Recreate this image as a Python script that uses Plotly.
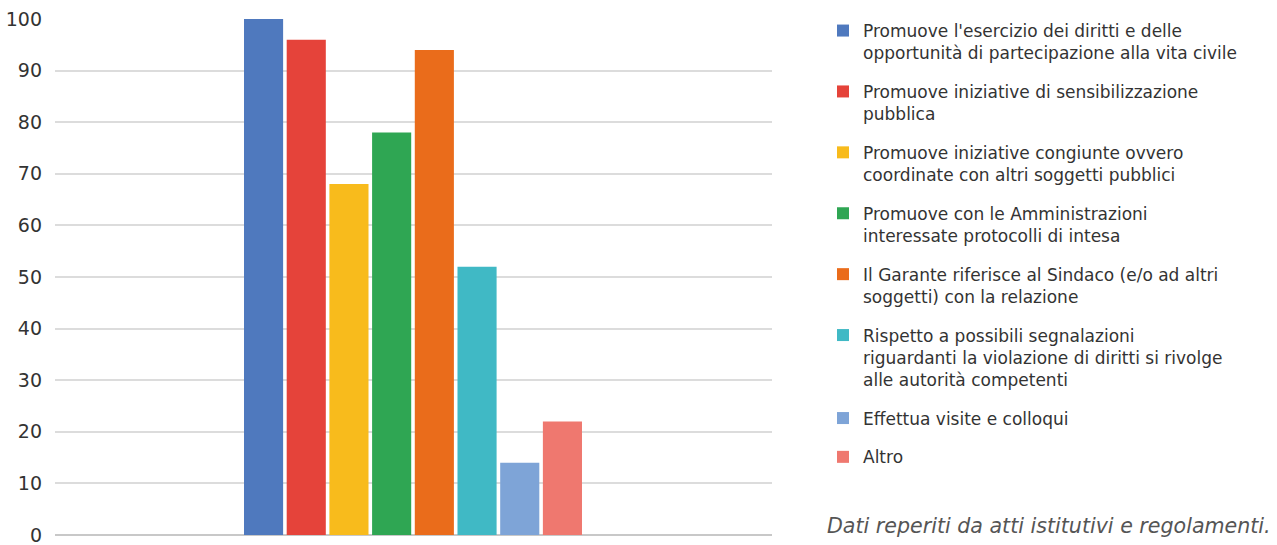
import plotly.graph_objects as go

category = [""]
labels = [
    "Promuove l'esercizio dei diritti e delle<br>opportunità di partecipazione alla vita civile",
    "Promuove iniziative di sensibilizzazione<br>pubblica",
    "Promuove iniziative congiunte ovvero<br>coordinate con altri soggetti pubblici",
    "Promuove con le Amministrazioni<br>interessate protocolli di intesa",
    "Il Garante riferisce al Sindaco (e/o ad altri<br>soggetti) con la relazione",
    "Rispetto a possibili segnalazioni<br>riguardanti la violazione di diritti si rivolge<br>alle autorità competenti",
    "Effettua visite e colloqui",
    "Altro",
]
values = [100, 96, 68, 78, 94, 52, 14, 22]
colors = ["#4f79be", "#e5433a", "#f8bb1c", "#2fa653", "#ea6c1b", "#40b9c5", "#7ea4d7", "#ef786f"]
y_ticks = list(range(0, 101, 10))
caption = "Dati reperiti da atti istitutivi e regolamenti."

fig = go.Figure()
for i, (lab, val, col) in enumerate(zip(labels, values, colors)):
    fig.add_trace(go.Bar(
        x=category, y=[val], name=lab, legendgroup=f"g{i}",
        marker=dict(color=col, line=dict(color=col, width=0)),
    ))

W, H = 1277, 545
ml, mr, mt, mb = 55, 505, 19, 10
fig.update_layout(
    width=W, height=H,
    margin=dict(l=ml, r=mr, t=mt, b=mb, autoexpand=False),
    paper_bgcolor="white", plot_bgcolor="white",
    barmode="group", bargap=0.5236, bargroupgap=0.084,
    showlegend=True,
    legend=dict(
        xref="container", yref="container",
        x=823 / W, y=1 - 13 / H, xanchor="left", yanchor="top",
        font=dict(family="DejaVu Sans", size=17, color="#333333"),
        valign="top", tracegroupgap=13.7, itemwidth=30, maxheight=540,
        bgcolor="rgba(0,0,0,0)",
    ),
    xaxis=dict(showticklabels=False, showgrid=False, zeroline=False, showline=False,
               range=[-0.4993, 0.5007], fixedrange=True, automargin=False),
    yaxis=dict(range=[0, 100], tickvals=y_ticks, showgrid=True, gridcolor="#dcdcdc",
               gridwidth=2, zeroline=True, zerolinecolor="#c8c8c8", zerolinewidth=2,
               showline=False, ticklabelstandoff=12, ticklabeloverflow="allow",
               automargin=False,
               tickfont=dict(family="DejaVu Sans", size=19, color="#333333")),
    annotations=[dict(
        text=caption, xref="paper", yref="paper",
        x=(1273 - ml) / (W - ml - mr), y=(H - mb - 526) / (H - mt - mb),
        xanchor="right", yanchor="middle", showarrow=False,
        font=dict(family="DejaVu Sans", size=20.6, color="#555555", style="italic", weight=200),
    )],
)

fig.write_html("out.html")
